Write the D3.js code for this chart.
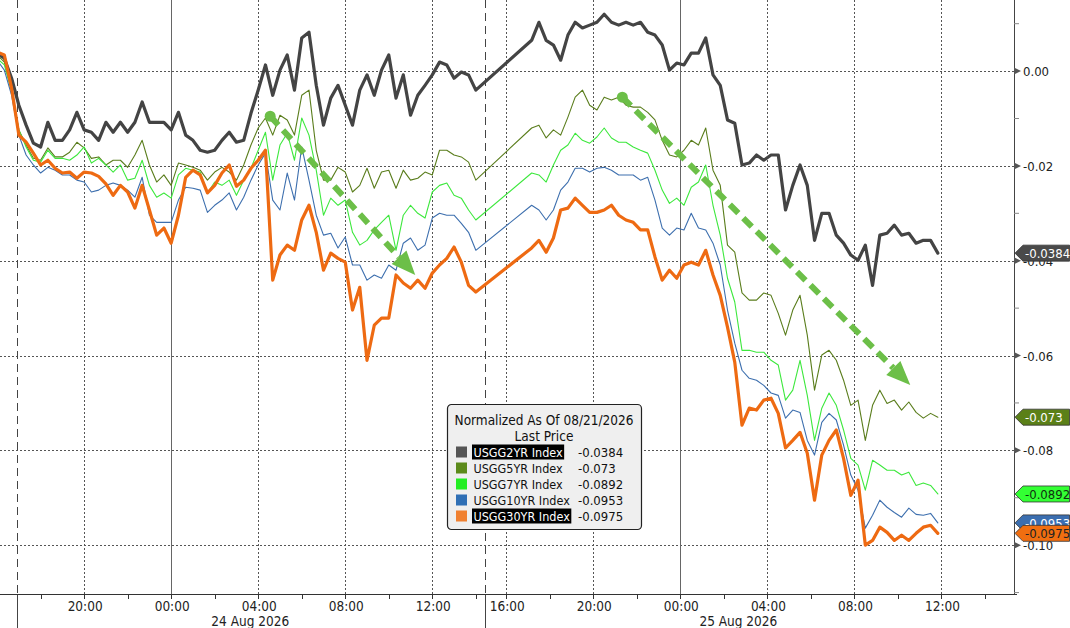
<!DOCTYPE html>
<html><head><meta charset="utf-8">
<script src="https://cdn.jsdelivr.net/npm/d3@7"></script>
<style>
html,body{margin:0;padding:0;background:#fff;}
svg{display:block;font-family:"DejaVu Sans Condensed","DejaVu Sans",sans-serif;}
</style></head><body>
<svg id="chart" width="1070" height="628"></svg>
<script>
// ---------------- DATA ----------------
const seriesNames = ["USGG2YR Index","USGG5YR Index","USGG7YR Index","USGG10YR Index","USGG30YR Index"];
const session1Start = "2026-08-23 16:00";
const session2Start = "2026-08-24 17:10";
const stepMinutes = 20;
const session1Count = 67;

const usgg2yr = [
0.0038,0.0027,-0.0015,-0.0072,-0.0114,-0.0152,-0.0160,-0.0108,-0.0146,-0.0146,
-0.0124,-0.0087,-0.0124,-0.0129,-0.0146,-0.0108,-0.0129,-0.0108,-0.0129,-0.0108,
-0.0065,-0.0108,-0.0108,-0.0108,-0.0124,-0.0087,-0.0135,-0.0146,-0.0167,-0.0171,
-0.0167,-0.0146,-0.0129,-0.0150,-0.0146,-0.0089,-0.0040,0.0013,-0.0051,0.0002,
0.0034,-0.0040,0.0070,0.0082,-0.0030,-0.0114,-0.0057,-0.0030,-0.0072,-0.0114,
-0.0040,-0.0008,-0.0051,0.0002,0.0034,-0.0057,-0.0008,-0.0093,-0.0051,-0.0030,
-0.0008,0.0019,0.0013,-0.0015,-0.0002,-0.0008,-0.0040,
0.0065,0.0103,0.0065,0.0055,0.0023,0.0076,0.0103,0.0091,0.0097,0.0103,
0.0120,0.0103,0.0097,0.0103,0.0097,0.0103,0.0082,0.0076,0.0055,0.0002,
0.0017,0.0013,0.0038,0.0038,0.0070,-0.0008,-0.0030,-0.0103,-0.0110,-0.0198,
-0.0194,-0.0177,-0.0188,-0.0177,-0.0177,-0.0293,-0.0241,-0.0198,-0.0241,-0.0357,
-0.0300,-0.0300,-0.0346,-0.0363,-0.0388,-0.0399,-0.0367,-0.0452,-0.0346,-0.0342,
-0.0325,-0.0346,-0.0342,-0.0363,-0.0357,-0.0357,-0.0384];

const usgg5yr = [
0.0034,0.0019,-0.0040,-0.0124,-0.0156,-0.0184,-0.0188,-0.0162,-0.0181,-0.0181,
-0.0171,-0.0150,-0.0162,-0.0184,-0.0181,-0.0198,-0.0188,-0.0188,-0.0203,-0.0177,
-0.0146,-0.0198,-0.0234,-0.0219,-0.0241,-0.0194,-0.0198,-0.0203,-0.0209,-0.0230,
-0.0213,-0.0203,-0.0213,-0.0230,-0.0198,-0.0156,-0.0120,-0.0099,-0.0135,-0.0093,
-0.0103,-0.0135,-0.0051,-0.0040,-0.0167,-0.0230,-0.0230,-0.0203,-0.0213,-0.0255,
-0.0241,-0.0205,-0.0247,-0.0213,-0.0209,-0.0247,-0.0209,-0.0230,-0.0226,-0.0213,
-0.0219,-0.0167,-0.0167,-0.0177,-0.0181,-0.0192,-0.0230,
-0.0120,-0.0114,-0.0141,-0.0124,-0.0135,-0.0097,-0.0055,-0.0040,-0.0072,-0.0082,
-0.0055,-0.0061,-0.0055,-0.0072,-0.0076,-0.0076,-0.0087,-0.0103,-0.0146,-0.0177,
-0.0181,-0.0167,-0.0146,-0.0156,-0.0120,-0.0209,-0.0241,-0.0367,-0.0382,-0.0468,
-0.0483,-0.0483,-0.0468,-0.0473,-0.0511,-0.0557,-0.0504,-0.0473,-0.0557,-0.0673,
-0.0599,-0.0589,-0.0610,-0.0652,-0.0705,-0.0694,-0.0779,-0.0705,-0.0673,-0.0701,
-0.0694,-0.0715,-0.0698,-0.0720,-0.0732,-0.0722,-0.0730];

const usgg7yr = [
0.0027,0.0013,-0.0044,-0.0124,-0.0160,-0.0188,-0.0192,-0.0167,-0.0184,-0.0184,
-0.0188,-0.0177,-0.0160,-0.0194,-0.0184,-0.0198,-0.0213,-0.0198,-0.0230,-0.0226,
-0.0188,-0.0241,-0.0266,-0.0257,-0.0268,-0.0219,-0.0205,-0.0209,-0.0213,-0.0257,
-0.0234,-0.0241,-0.0230,-0.0262,-0.0230,-0.0205,-0.0167,-0.0129,-0.0230,-0.0156,
-0.0131,-0.0188,-0.0099,-0.0135,-0.0209,-0.0304,-0.0268,-0.0283,-0.0272,-0.0340,
-0.0367,-0.0357,-0.0335,-0.0319,-0.0304,-0.0378,-0.0304,-0.0283,-0.0300,-0.0310,
-0.0255,-0.0241,-0.0236,-0.0262,-0.0268,-0.0293,-0.0314,
-0.0215,-0.0219,-0.0234,-0.0198,-0.0167,-0.0156,-0.0131,-0.0146,-0.0152,-0.0139,
-0.0120,-0.0141,-0.0150,-0.0150,-0.0160,-0.0167,-0.0173,-0.0209,-0.0251,-0.0279,
-0.0268,-0.0283,-0.0245,-0.0234,-0.0198,-0.0283,-0.0346,-0.0437,-0.0487,-0.0589,
-0.0589,-0.0593,-0.0593,-0.0610,-0.0620,-0.0694,-0.0673,-0.0610,-0.0684,-0.0779,
-0.0711,-0.0679,-0.0705,-0.0757,-0.0817,-0.0831,-0.0884,-0.0821,-0.0831,-0.0842,
-0.0842,-0.0852,-0.0846,-0.0874,-0.0869,-0.0874,-0.0892];

const usgg10yr = [
0.0023,0.0002,-0.0051,-0.0135,-0.0177,-0.0198,-0.0215,-0.0203,-0.0209,-0.0219,
-0.0219,-0.0230,-0.0234,-0.0255,-0.0251,-0.0241,-0.0236,-0.0241,-0.0251,-0.0266,
-0.0224,-0.0304,-0.0319,-0.0319,-0.0319,-0.0272,-0.0245,-0.0247,-0.0251,-0.0298,
-0.0283,-0.0272,-0.0257,-0.0293,-0.0266,-0.0230,-0.0198,-0.0173,-0.0272,-0.0293,
-0.0215,-0.0272,-0.0160,-0.0230,-0.0304,-0.0346,-0.0342,-0.0373,-0.0350,-0.0409,
-0.0409,-0.0441,-0.0430,-0.0437,-0.0409,-0.0420,-0.0363,-0.0352,-0.0378,-0.0367,
-0.0310,-0.0300,-0.0304,-0.0304,-0.0321,-0.0340,-0.0378,
-0.0283,-0.0293,-0.0314,-0.0293,-0.0251,-0.0234,-0.0205,-0.0205,-0.0213,-0.0205,
-0.0203,-0.0209,-0.0219,-0.0219,-0.0219,-0.0230,-0.0224,-0.0272,-0.0331,-0.0346,
-0.0331,-0.0335,-0.0300,-0.0331,-0.0335,-0.0363,-0.0409,-0.0504,-0.0574,-0.0631,
-0.0648,-0.0652,-0.0663,-0.0679,-0.0684,-0.0732,-0.0715,-0.0720,-0.0779,-0.0810,
-0.0741,-0.0722,-0.0736,-0.0789,-0.0852,-0.0884,-0.0964,-0.0937,-0.0905,-0.0920,
-0.0931,-0.0941,-0.0922,-0.0935,-0.0937,-0.0933,-0.0953];

const usgg30yr = [
0.0040,0.0034,-0.0036,-0.0135,-0.0150,-0.0173,-0.0198,-0.0188,-0.0205,-0.0215,
-0.0213,-0.0226,-0.0213,-0.0215,-0.0222,-0.0238,-0.0262,-0.0241,-0.0255,-0.0289,
-0.0241,-0.0293,-0.0346,-0.0331,-0.0363,-0.0304,-0.0224,-0.0209,-0.0219,-0.0257,
-0.0241,-0.0215,-0.0198,-0.0243,-0.0230,-0.0205,-0.0188,-0.0167,-0.0441,-0.0388,
-0.0367,-0.0378,-0.0314,-0.0283,-0.0340,-0.0420,-0.0384,-0.0395,-0.0403,-0.0504,
-0.0456,-0.0610,-0.0536,-0.0521,-0.0521,-0.0430,-0.0447,-0.0458,-0.0441,-0.0458,
-0.0426,-0.0409,-0.0395,-0.0371,-0.0403,-0.0452,-0.0466,
-0.0373,-0.0357,-0.0382,-0.0352,-0.0293,-0.0289,-0.0268,-0.0283,-0.0298,-0.0298,
-0.0293,-0.0283,-0.0304,-0.0314,-0.0319,-0.0335,-0.0335,-0.0392,-0.0441,-0.0420,
-0.0437,-0.0409,-0.0403,-0.0409,-0.0378,-0.0430,-0.0473,-0.0540,-0.0614,-0.0747,
-0.0711,-0.0715,-0.0694,-0.0690,-0.0722,-0.0795,-0.0779,-0.0762,-0.0806,-0.0905,
-0.0810,-0.0779,-0.0757,-0.0817,-0.0895,-0.0863,-0.1000,-0.0990,-0.0962,-0.0973,
-0.0990,-0.0979,-0.0990,-0.0975,-0.0962,-0.0958,-0.0975];

const legendTitle = "Normalized As Of 08/21/2026";
const legendSubtitle = "Last Price";
const yTicks = [0, -0.02, -0.04, -0.06, -0.08, -0.10];
const yMinorTicks = [0.01, -0.01, -0.03, -0.05, -0.07, -0.09, -0.11];
const xLabelTicks = ["2026-08-23 20:00","2026-08-24 00:00","2026-08-24 04:00","2026-08-24 08:00","2026-08-24 12:00",
  "2026-08-24 16:00","2026-08-24 20:00","2026-08-25 00:00","2026-08-25 04:00","2026-08-25 08:00","2026-08-25 12:00"];
const xMinorTicks = ["2026-08-23 18:00","2026-08-23 22:00","2026-08-24 02:00","2026-08-24 06:00","2026-08-24 10:00",
  "2026-08-24 14:00","2026-08-24 18:00","2026-08-24 22:00","2026-08-25 02:00","2026-08-25 06:00","2026-08-25 10:00","2026-08-25 14:00"];
const midnightLines = ["2026-08-24 00:00","2026-08-25 00:00"];
const sessionBreaks = ["2026-08-23 16:55","2026-08-24 14:24"];
const dateLabels = [["2026-08-24 03:38","24 Aug 2026"],["2026-08-25 02:40","25 Aug 2026"]];
const trendArrows = [
  {from:["2026-08-24 04:33",-0.0095], to:["2026-08-24 11:13",-0.0430]},
  {from:["2026-08-24 21:20",-0.0055], to:["2026-08-25 10:34",-0.0662]}
];

// ---------------- STYLE ----------------
const lineColors = ["#444444","#5a7d1c","#3de83d","#3d6fae","#ee6a12"];
const lineWidths = [3.2,1.1,1.1,1.1,3.2];
const swatchColors = ["#555555","#5b8a1a","#22ee22","#2f6fb5","#f08030"];
const tagFill = ["#4a4a4a","#5b8018","#33ff33","#3b6eb0","#f06e10"];
const tagText = ["#ffffff","#ffffff","#103010","#ffffff","#222222"];
const highlightRows = [0,4];

const parse = d3.timeParse("%Y-%m-%d %H:%M");
const loc = d3.formatLocale({decimal:".",thousands:",",grouping:[3],currency:["$",""],minus:"-"});
const fmtTick = loc.format(".2f");
const fmtLast = loc.format(".4~f");

const plotW = 1014, plotH = 594;
const domainPts = [parse("2026-08-23 16:08"), parse("2026-08-24 14:24"), parse("2026-08-24 15:00"), parse("2026-08-25 15:20")];
const d1 = domainPts[1]-domainPts[0], d2 = domainPts[3]-domainPts[2];
const xBreak = plotW*d1/(d1+d2);
const x = d3.scaleTime().domain(domainPts).range([0,xBreak,xBreak,plotW]);
const y = d3.scaleLinear().domain([-0.1103, 0.0150]).range([plotH, 0]);

const allSeries = [usgg2yr,usgg5yr,usgg7yr,usgg10yr,usgg30yr];
const s1 = parse(session1Start), s2 = parse(session2Start);
const times = usgg2yr.map((_,i)=> i<session1Count ? d3.timeMinute.offset(s1, stepMinutes*i) : d3.timeMinute.offset(s2, stepMinutes*(i-session1Count)));

const svg = d3.select("#chart");
svg.append("defs").append("clipPath").attr("id","plotclip").append("rect").attr("x",0).attr("y",0).attr("width",plotW).attr("height",plotH);

// horizontal dotted grid
svg.append("g").selectAll("line").data(yTicks).join("line")
  .attr("x1",0).attr("x2",plotW).attr("y1",d=>Math.round(y(d))+0.5).attr("y2",d=>Math.round(y(d))+0.5)
  .attr("stroke","#555").attr("stroke-width",1).attr("stroke-dasharray","2,2");
// vertical dotted grid
const midSet = new Set(midnightLines);
svg.append("g").selectAll("line").data(xLabelTicks.filter(t=>!midSet.has(t))).join("line")
  .attr("x1",d=>Math.round(x(parse(d)))+0.5).attr("x2",d=>Math.round(x(parse(d)))+0.5).attr("y1",0).attr("y2",plotH)
  .attr("stroke","#555").attr("stroke-width",1).attr("stroke-dasharray","2,2");
svg.append("g").selectAll("line").data(midnightLines).join("line")
  .attr("x1",d=>Math.round(x(parse(d)))+0.5).attr("x2",d=>Math.round(x(parse(d)))+0.5).attr("y1",0).attr("y2",plotH)
  .attr("stroke","#666").attr("stroke-width",1);
// session breaks
const sb = svg.append("g");
sb.selectAll("line.a").data(sessionBreaks).join("line").attr("class","a")
  .attr("x1",d=>Math.round(x(parse(d)))+0.5).attr("x2",d=>Math.round(x(parse(d)))+0.5).attr("y1",0).attr("y2",plotH)
  .attr("stroke","#444").attr("stroke-width",1).attr("stroke-dasharray","8,5");
sb.selectAll("line.b").data(sessionBreaks).join("line").attr("class","b")
  .attr("x1",d=>Math.round(x(parse(d)))+0.5).attr("x2",d=>Math.round(x(parse(d)))+0.5).attr("y1",plotH).attr("y2",628)
  .attr("stroke","#444").attr("stroke-width",1);

// lines
const line = d3.line().x(d=>x(d.t)).y(d=>y(d.v));
const lg = svg.append("g").attr("clip-path","url(#plotclip)");
allSeries.forEach((vals,k)=>{
  lg.append("path").datum(vals.map((v,i)=>({t:times[i],v})))
    .attr("d",line).attr("fill","none").attr("stroke",lineColors[k]).attr("stroke-width",lineWidths[k])
    .attr("stroke-linejoin","round").attr("stroke-linecap","round");
});

// trend arrows
const arrowColor = "#6cbf48";
trendArrows.forEach(a=>{
  const x0 = x(parse(a.from[0])), y0 = y(a.from[1]);
  const x1 = x(parse(a.to[0])), y1 = y(a.to[1]);
  const ang = Math.atan2(y1-y0, x1-x0);
  const headL = 24, headW = 10;
  const bx = x1 - headL*Math.cos(ang), by = y1 - headL*Math.sin(ang);
  svg.append("line").attr("x1",x0).attr("y1",y0).attr("x2",bx).attr("y2",by)
    .attr("stroke",arrowColor).attr("stroke-width",6).attr("stroke-dasharray","12,7");
  svg.append("circle").attr("cx",x0).attr("cy",y0).attr("r",5.5).attr("fill",arrowColor);
  const px = -Math.sin(ang), py = Math.cos(ang);
  svg.append("path").attr("d",`M${x1},${y1}L${bx+px*headW},${by+py*headW}L${bx-px*headW},${by-py*headW}Z`).attr("fill",arrowColor);
});

// x axis
const xa = svg.append("g");
xa.append("line").attr("x1",0).attr("x2",plotW+3).attr("y1",plotH+0.5).attr("y2",plotH+0.5).attr("stroke","#333");
xa.selectAll("line.t").data(xLabelTicks.concat(xMinorTicks)).join("line").attr("class","t")
  .attr("x1",d=>Math.round(x(parse(d)))+0.5).attr("x2",d=>Math.round(x(parse(d)))+0.5).attr("y1",plotH).attr("y2",plotH+5)
  .attr("stroke","#333");
const tf = d3.timeFormat("%H:%M");
xa.selectAll("text.l").data(xLabelTicks).join("text").attr("class","l")
  .attr("x",d=>x(parse(d))+1).attr("y",611).attr("text-anchor","middle")
  .attr("font-size",13.5).attr("fill","#222").text(d=>tf(parse(d)));
xa.selectAll("text.d").data(dateLabels).join("text").attr("class","d")
  .attr("x",d=>x(parse(d[0]))).attr("y",626).attr("text-anchor","middle")
  .attr("font-size",13.5).attr("fill","#222").text(d=>d[1]);

// y axis (right)
const ya = svg.append("g");
ya.append("line").attr("x1",plotW+0.5).attr("x2",plotW+0.5).attr("y1",0).attr("y2",plotH).attr("stroke","#444");
ya.selectAll("path.tri").data(yTicks).join("path").attr("class","tri")
  .attr("d",d=>{const yy=y(d);return `M${plotW},${yy-3.5}L${plotW+7},${yy}L${plotW},${yy+3.5}Z`;}).attr("fill","#555");
ya.selectAll("line.mn").data(yMinorTicks).join("line").attr("class","mn")
  .attr("x1",plotW).attr("x2",plotW+5).attr("y1",d=>y(d)).attr("y2",d=>y(d)).attr("stroke","#888");
ya.selectAll("text").data(yTicks).join("text")
  .attr("x",plotW+9).attr("y",d=>y(d)+5).attr("font-size",13).attr("fill","#222").text(d=>fmtTick(d));

// last-value tags
allSeries.forEach((vals,k)=>{
  const last = vals[vals.length-1];
  const yy = y(last);
  svg.append("path").attr("d",`M${plotW+1},${yy}L${plotW+9},${yy-8}L1069.5,${yy-8}L1069.5,${yy+8}L${plotW+9},${yy+8}Z`)
    .attr("fill",tagFill[k]).attr("stroke","#333").attr("stroke-width",0.8);
  svg.append("text").attr("x",plotW+11).attr("y",yy+5).attr("font-size",13).attr("fill",tagText[k]).text(fmtLast(last));
});

// legend
const L = svg.append("g").attr("transform","translate(447,404)");
L.append("rect").attr("x",0.5).attr("y",0.5).attr("width",194).attr("height",125).attr("rx",4)
  .attr("fill","#efefef").attr("stroke","#222").attr("stroke-width",1.2);
L.append("text").attr("x",97).attr("y",21).attr("text-anchor","middle").attr("font-size",13.5).attr("fill","#111").text(legendTitle);
L.append("text").attr("x",97).attr("y",37).attr("text-anchor","middle").attr("font-size",13.5).attr("fill","#111").text(legendSubtitle);
seriesNames.forEach((nm,k)=>{
  const cy = 48 + 16*k;
  L.append("rect").attr("x",9).attr("y",cy-5.5).attr("width",11).attr("height",11).attr("fill",swatchColors[k]);
  const hl = highlightRows.includes(k);
  const bg = L.append("rect").attr("x",25).attr("y",cy-7.5).attr("height",15).attr("fill",hl?"#000":"none");
  const t = L.append("text").attr("x",26.5).attr("y",cy+5).attr("font-size",12.5).attr("fill",hl?"#fff":"#111").text(nm);
  bg.attr("width", t.node().getComputedTextLength()+3);
  const vals = allSeries[k];
  L.append("text").attr("x",131).attr("y",cy+5).attr("font-size",13).attr("fill","#111").text(fmtLast(vals[vals.length-1]));
});
</script>
</body></html>
